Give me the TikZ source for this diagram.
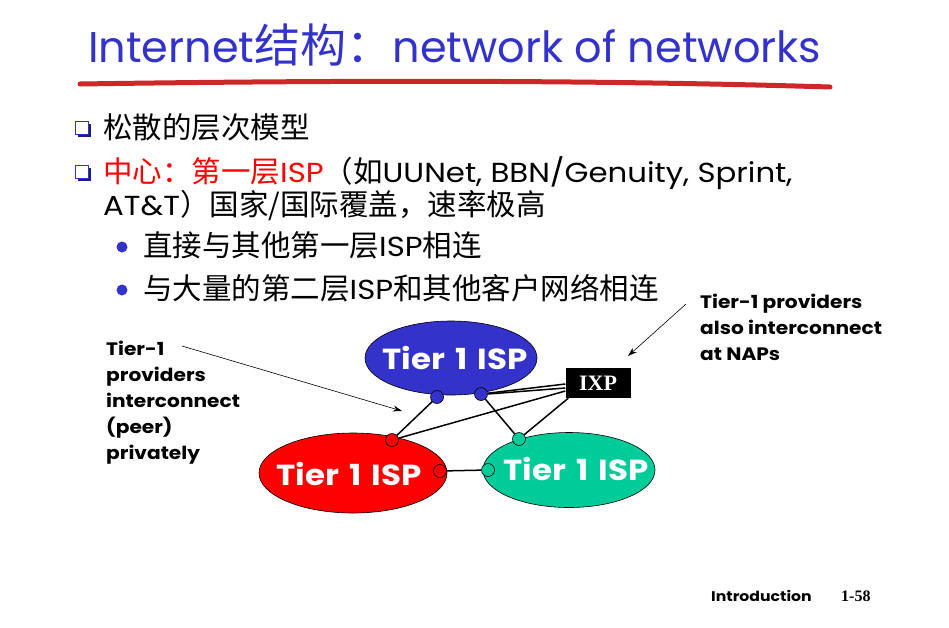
\documentclass[tikz,border=0pt]{standalone}
\usepackage{fontspec}
\setmainfont{Poppins}[FakeStretch=1.12]
\newfontfamily\ttlfont{Poppins}
\newfontfamily\cjk{Noto Sans CJK SC}
\newfontfamily\serifb{Liberation Serif}
\usetikzlibrary{shapes.geometric,arrows.meta}
\definecolor{ttlblue}{RGB}{51,51,204}
\definecolor{ulred}{RGB}{204,40,40}
\definecolor{ispblue}{RGB}{51,51,204}
\definecolor{ispred}{RGB}{255,0,0}
\definecolor{ispgreen}{RGB}{0,204,153}
\definecolor{txtred}{RGB}{255,0,0}
\tikzset{
  isp/.style={ellipse, draw=black, line width=0.6pt, inner sep=0pt},
  isplabel/.style={text=white, inner sep=0pt, font=\fontsize{29}{29}\selectfont\bfseries},
  port/.style={circle, draw=black, line width=0.6pt, minimum size=13pt, inner sep=0pt},
  link/.style={draw=black, line width=1.5pt},
  note/.style={font=\fontsize{18}{26}\selectfont\bfseries, align=left, inner sep=0pt, anchor=north west},
  pointer/.style={-{Stealth[length=9pt,width=6pt]}, line width=0.6pt},
  body/.style={anchor=base west, inner sep=0pt, font=\fontsize{27.5}{28}\selectfont},
  sqbullet/.style={draw=ttlblue, fill=white, line width=1.2pt, minimum size=13pt, inner sep=0pt},
  dotbullet/.style={circle, fill=ttlblue, minimum size=11pt, inner sep=0pt},
}
\newcommand{\ck}[1]{{\cjk\fontsize{29.5}{30}\selectfont #1}}
\newcommand{\wsp}{\hspace{0.35em}}
\begin{document}
\begin{tikzpicture}[x=1pt,y=-1pt]
\useasboundingbox (0,0) rectangle (949,627);
% title
\node[anchor=base west, inner sep=0, text=ttlblue, font=\ttlfont\fontsize{43}{48}\selectfont] (title) at (88,62)
  {Internet{\cjk\fontsize{46}{48}\selectfont 结构：}network of networks};
\draw[ulred, line width=5pt, line cap=round] (80,84) .. controls (350,80) and (600,80) .. (830,87);
% square bullets
\fill[ttlblue!60!black] (78,124) rectangle (91,137);
\node[sqbullet] (b1) at (82,128) {};
\fill[ttlblue!60!black] (78,168) rectangle (91,181);
\node[sqbullet] (b2) at (82,172) {};
\node[body] (l1) at (103,138) {\ck{松散的层次模型}};
\node[body] (l2) at (103,182) {\textcolor{txtred}{\ck{中心：第一层}ISP}\ck{（如}UUNet, BBN/Genuity, Sprint,};
\node[body] (l3) at (103,215) {AT\&T\ck{）国家/国际覆盖，速率极高}};
% round bullets
\node[dotbullet] (d1) at (122,247) {};
\node[dotbullet] (d2) at (122,290) {};
\node[body] (l4) at (143,256) {\ck{直接与其他第一层}ISP\ck{相连}};
\node[body] (l5) at (143,299) {\ck{与大量的第二层}ISP\ck{和其他客户网络相连}};
% ISPs
\node[isp, fill=ispblue, minimum width=172pt, minimum height=74pt] (ispB) at (451,358) {};
\node[isplabel] (tB) at (455,358) {Tier\wsp 1\wsp ISP};
\node[isp, fill=ispred, minimum width=188pt, minimum height=80pt] (ispR) at (353,473) {};
\node[isplabel] (tR) at (349,474) {Tier\wsp 1\wsp ISP};
\node[isp, fill=ispgreen, minimum width=172pt, minimum height=75pt] (ispG) at (569,470) {};
\node[isplabel] (tG) at (576,469) {Tier\wsp 1\wsp ISP};
% IXP
\node[fill=black, text=white, inner sep=0pt, minimum width=65pt, minimum height=30pt,
  font=\serifb\bfseries\fontsize{22}{22}\selectfont] (ixp) at (598,383) {IXP};
% ports
\node[port, fill=ispblue] (pB1) at (437,397) {};
\node[port, fill=ispblue] (pB2) at (481,394) {};
\node[port, fill=ispred] (pR1) at (392,440) {};
\node[port, fill=ispred] (pR2) at (440,471) {};
\node[port, fill=ispgreen] (pG1) at (488,470) {};
\node[port, fill=ispgreen] (pG2) at (519,439) {};
% links
\draw[link] (pB1) -- (pR1);
\draw[link] (pB2) -- (pG2);
\draw[link] (pR2) -- (pG1);
\draw[link] (pB2) -- ([yshift=-1pt]ixp.west);
\draw[link] (pB2.east) -- ([yshift=-5pt]ixp.west);
\draw[link] (pR1) -- ([yshift=-8pt]ixp.west);
\draw[link] (pG2) -- ([xshift=3pt]ixp.south west);
% notes
\node[note] (n1) at (106,341) {Tier-1\\providers\\interconnect\\(peer)\\privately};
\coordinate (a1s) at (182,346);
\coordinate (a1e) at (402,411);
\draw[pointer] (a1s) -- (a1e);
\node[note] (n2) at (700,294) {Tier-1 providers\\also interconnect\\at NAPs};
\coordinate (a2s) at (686,304);
\coordinate (a2e) at (628,356);
\draw[pointer] (a2s) -- (a2e);
% footer
\node[anchor=base west, inner sep=0, font=\fontsize{14}{14}\selectfont\bfseries] (intro) at (711,601) {Introduction};
\node[anchor=base west, inner sep=0, font=\serifb\bfseries\fontsize{16}{16}\selectfont] (pg) at (841,601) {1-58};
\end{tikzpicture}
\end{document}
